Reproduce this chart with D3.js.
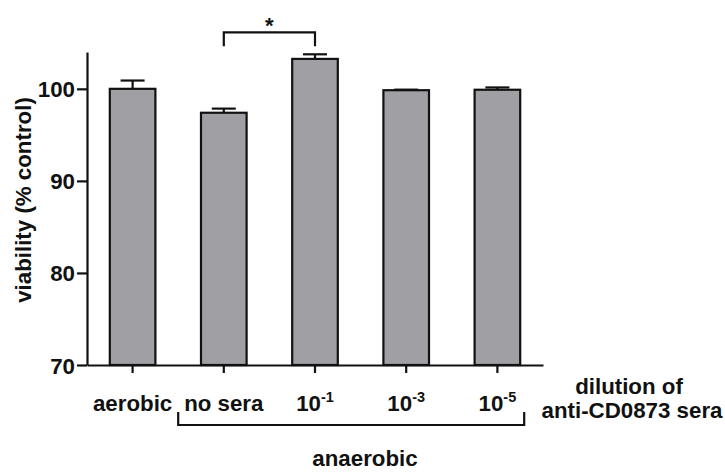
<!DOCTYPE html>
<html>
<head>
<meta charset="utf-8">
<script src="https://cdn.jsdelivr.net/npm/d3@7"></script>
<style>
  html, body { margin: 0; padding: 0; background: #fff; }
  svg text { font-family: "Liberation Sans", Arial, Helvetica, sans-serif; font-weight: bold; fill: #111; }
</style>
</head>
<body>
<svg id="chart" width="725" height="472"></svg>
<script>
// Viability of cells under each condition (% of control), mean and SEM
const categories = ["aerobic", "no sera", "1e-1", "1e-3", "1e-5"];
const tickLabels = [
  { base: "aerobic", sup: "" },
  { base: "no sera", sup: "" },
  { base: "10", sup: "-1" },
  { base: "10", sup: "-3" },
  { base: "10", sup: "-5" }
];
const means = [100.0, 97.4, 103.25, 99.85, 99.9];
const sems  = [0.9, 0.45, 0.5, 0.06, 0.25];
const yTicks = [70, 80, 90, 100];

const svg = d3.select("#chart");
const plot = { left: 87, right: 543, top: 52, bottom: 365 };
const fs = 22.3;

const x = d3.scaleBand().domain(categories).range([plot.left, plot.right]).paddingInner(0.5).paddingOuter(0.25);
const y = d3.scaleLinear().domain([70, 104]).range([plot.bottom, plot.top]);

const data = categories.map((c, i) => ({ c, m: means[i], e: sems[i] }));

// bars
svg.append("g").selectAll("rect").data(data).join("rect")
  .attr("x", d => x(d.c))
  .attr("y", d => y(d.m))
  .attr("width", x.bandwidth())
  .attr("height", d => y(70) - y(d.m))
  .attr("fill", "#a09fa4")
  .attr("stroke", "#111")
  .attr("stroke-width", 2.2);

// error bars (upper only)
const eb = svg.append("g").attr("stroke", "#111").attr("stroke-width", 2.2);
data.forEach(d => {
  const cx = x(d.c) + x.bandwidth() / 2;
  eb.append("line").attr("x1", cx).attr("x2", cx).attr("y1", y(d.m)).attr("y2", y(d.m + d.e));
  eb.append("line").attr("x1", cx - 12).attr("x2", cx + 12).attr("y1", y(d.m + d.e)).attr("y2", y(d.m + d.e));
});

// y axis
const yAxis = svg.append("g").attr("transform", `translate(${plot.left},0)`)
  .call(d3.axisLeft(y).tickValues(yTicks).tickSize(10).tickPadding(2).tickSizeOuter(0));
yAxis.select(".domain").attr("stroke", "#111").attr("stroke-width", 2.2);
yAxis.selectAll(".tick line").attr("stroke", "#111").attr("stroke-width", 2.2);
yAxis.selectAll(".tick text").attr("font-size", fs).attr("dy", "0.36em").style("fill", "#111");

// x axis
const xAxis = svg.append("g").attr("transform", `translate(0,${plot.bottom})`)
  .call(d3.axisBottom(x).tickSize(8).tickSizeOuter(0).tickFormat(""));
xAxis.select(".domain").attr("stroke", "#111").attr("stroke-width", 2.2);
xAxis.selectAll(".tick line").attr("stroke", "#111").attr("stroke-width", 2.2);
svg.selectAll("text").attr("font-family", null);

// category labels with superscript exponents
const lbl = svg.append("g");
categories.forEach((c, i) => {
  const t = lbl.append("text")
    .attr("x", x(c) + x.bandwidth() / 2)
    .attr("y", 411)
    .attr("text-anchor", "middle")
    .attr("font-size", fs);
  t.append("tspan").text(tickLabels[i].base);
  if (tickLabels[i].sup) {
    t.append("tspan").attr("dy", -9).attr("font-size", 14.5).text(tickLabels[i].sup);
  }
});

// y-axis title
svg.append("text")
  .attr("transform", `translate(31,200) rotate(-90)`)
  .attr("text-anchor", "middle")
  .attr("font-size", fs)
  .text("viability (% control)");

// significance bracket between "no sera" and 10^-1
const bx1 = x(categories[1]) + x.bandwidth() / 2;
const bx2 = x(categories[2]) + x.bandwidth() / 2;
const capTop = y(means[2] + sems[2]);
svg.append("path")
  .attr("d", `M${bx1},${capTop - 8}V${capTop - 22}H${bx2}V${capTop - 8}`)
  .attr("fill", "none").attr("stroke", "#111").attr("stroke-width", 2.2);
svg.append("text")
  .attr("x", (bx1 + bx2) / 2).attr("y", capTop - 21)
  .attr("text-anchor", "middle").attr("font-size", 22).text("*");

// anaerobic group bracket
const gap = x.step() - x.bandwidth();
const gx1 = x(categories[1]) - gap / 2;
const gx2 = x(categories[4]) + x.bandwidth() + 4;
svg.append("path")
  .attr("d", `M${gx1},412V425H${gx2}V412`)
  .attr("fill", "none").attr("stroke", "#111").attr("stroke-width", 2.2);
svg.append("text")
  .attr("x", 365).attr("y", 466)
  .attr("text-anchor", "middle").attr("font-size", fs).text("anaerobic");

// dilution caption
svg.append("text").attr("x", 629).attr("y", 394).attr("text-anchor", "middle")
  .attr("font-size", fs).text("dilution of");
svg.append("text").attr("x", 632).attr("y", 418).attr("text-anchor", "middle")
  .attr("font-size", fs).text("anti-CD0873 sera");
</script>
</body>
</html>
